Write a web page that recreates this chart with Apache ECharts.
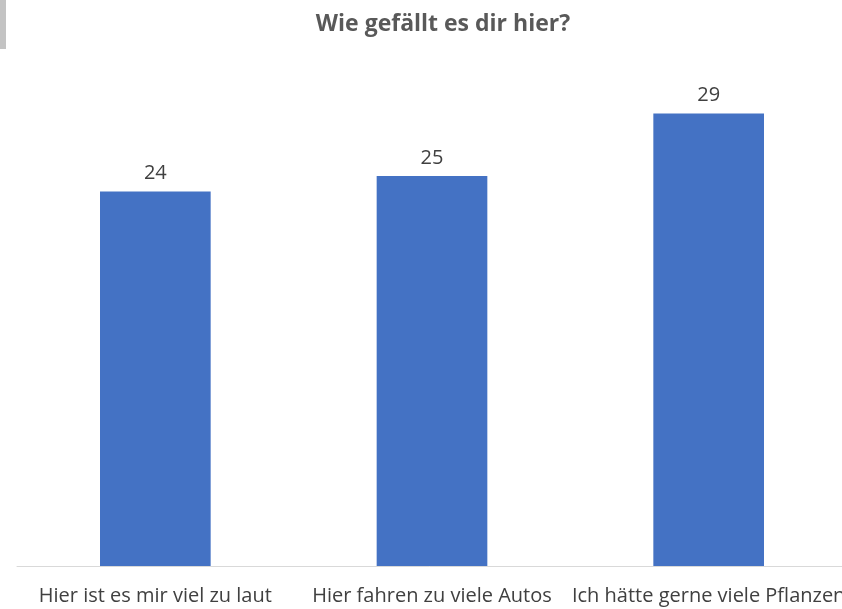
<!DOCTYPE html>
<html>
<head>
<meta charset="utf-8">
<script src="https://cdn.jsdelivr.net/npm/echarts@6/dist/echarts.min.js"></script>
<style>
  html, body { margin: 0; padding: 0; background: #fff; }
  #main { width: 842px; height: 609px; }
</style>
</head>
<body>
<div id="main"></div>
<script>
  var categories = ['Hier ist es mir viel zu laut', 'Hier fahren zu viele Autos', 'Ich hätte gerne viele Pflanzen'];
  var values = [24, 25, 29];

  var my_chart = echarts.init(document.getElementById('main'));
  var option = {
    backgroundColor: '#ffffff',
    title: {
      text: 'Wie gefällt es dir hier?',
      left: 438,
      textAlign: 'center',
      top: 8,
      textStyle: {
        color: '#595959',
        fontFamily: 'Open Sans',
        fontWeight: 'bold',
        fontSize: 23
      }
    },
    // small grey block in the top-left corner
    graphic: [{
      type: 'rect',
      shape: { x: 0, y: 0, width: 6, height: 49 },
      style: { fill: '#c3c3c3' }
    }],
    grid: {
      left: 17,
      right: -5,
      top: 98,
      bottom: 43,
      containLabel: false,
      outerBoundsMode: 'none'
    },
    xAxis: {
      type: 'category',
      data: categories,
      axisLine: { lineStyle: { color: '#d9d9d9', width: 1 } },
      axisTick: { show: false },
      axisLabel: {
        interval: 0,
        hideOverlap: false,
        color: '#404040',
        fontFamily: 'Open Sans',
        fontSize: 20,
        margin: 20
      }
    },
    yAxis: {
      type: 'value',
      min: 0,
      max: 30,
      show: false,
      splitLine: { show: false }
    },
    series: [{
      type: 'bar',
      data: values,
      barWidth: '40%',
      itemStyle: { color: '#4472c4' },
      label: {
        show: true,
        position: 'top',
        distance: 8,
        color: '#404040',
        fontFamily: 'Open Sans',
        fontSize: 20
      }
    }]
  };
  my_chart.setOption(option);
</script>
</body>
</html>
